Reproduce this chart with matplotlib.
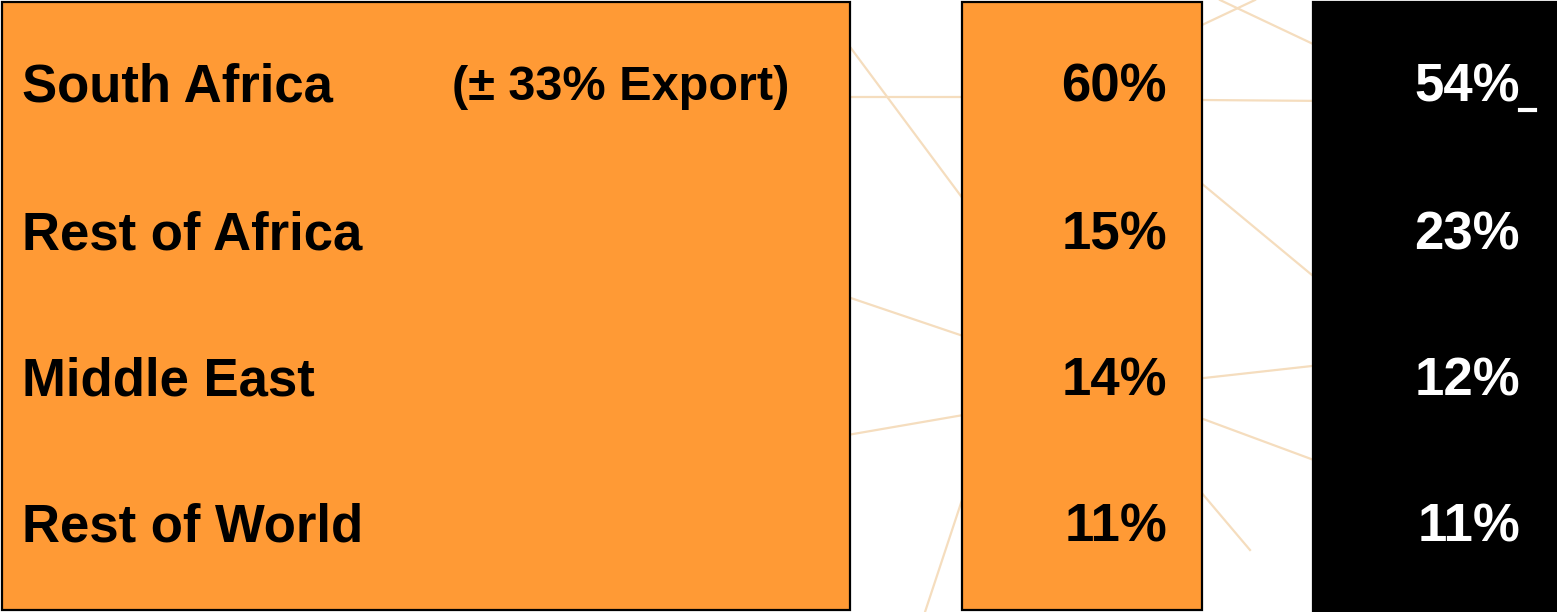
import matplotlib

matplotlib.use('Agg')
import matplotlib.pyplot as plt
from matplotlib.patches import Rectangle

regions = ['South Africa', 'Rest of Africa', 'Middle East', 'Rest of World']
note = '(± 33% Export)'
share_a = ['60%', '15%', '14%', '11%']
share_b = ['54%', '23%', '12%', '11%']

ORANGE = '#FF9A35'
LINE = '#F5DDBE'
W, H = 1557, 612
ROW_Y = [88, 235, 382, 528]

# faint background web lines (decoration)
web = [
    ((830, 20), (975, 215)), ((830, 97), (962, 97)), ((1202, 100), (1330, 101)),
    ((830, 291), (975, 340)), ((830, 438), (975, 413)), ((962, 500), (925, 612)),
    ((1195, 178), (1330, 290)), ((1220, 0), (1330, 52)), ((1195, 379), (1330, 364)),
    ((1195, 416), (1330, 466)), ((1195, 485), (1250, 550)), ((1202, 25), (1255, 0)),
]

fig = plt.figure(figsize=(W / 100, H / 100), dpi=100)
ax = fig.add_axes([0, 0, 1, 1])
ax.set_xlim(0, W)
ax.set_ylim(H, 0)
ax.axis('off')

for (x0, y0), (x1, y1) in web:
    ax.plot([x0, x1], [y0, y1], color=LINE, lw=1.6, zorder=1)

ax.add_patch(Rectangle((2, 2), 848, 608, facecolor=ORANGE, edgecolor='black', lw=1.6, zorder=2))
ax.add_patch(Rectangle((962, 2), 240, 608, facecolor=ORANGE, edgecolor='black', lw=1.6, zorder=2))
ax.add_patch(Rectangle((1313, 2), 250, 615, facecolor='black', edgecolor='black', lw=1.6, zorder=2))

font = dict(family='Liberation Sans', weight='bold', fontsize=38, va='center', zorder=3)
for y, name, a, b in zip(ROW_Y, regions, share_a, share_b):
    ax.text(22, y, name, ha='left', color='black', **font)
    ax.text(1167, y, a, ha='right', color='black', **font)
    ax.text(1520, y, b, ha='right', color='white', **font)
ax.text(452, ROW_Y[0], note, ha='left', color='black',
        **{**font, 'fontsize': 35})
ax.plot([1520, 1535], [ROW_Y[0] + 22, ROW_Y[0] + 22], color='white', lw=3, zorder=3)

fig.savefig('out.png', dpi=100)
